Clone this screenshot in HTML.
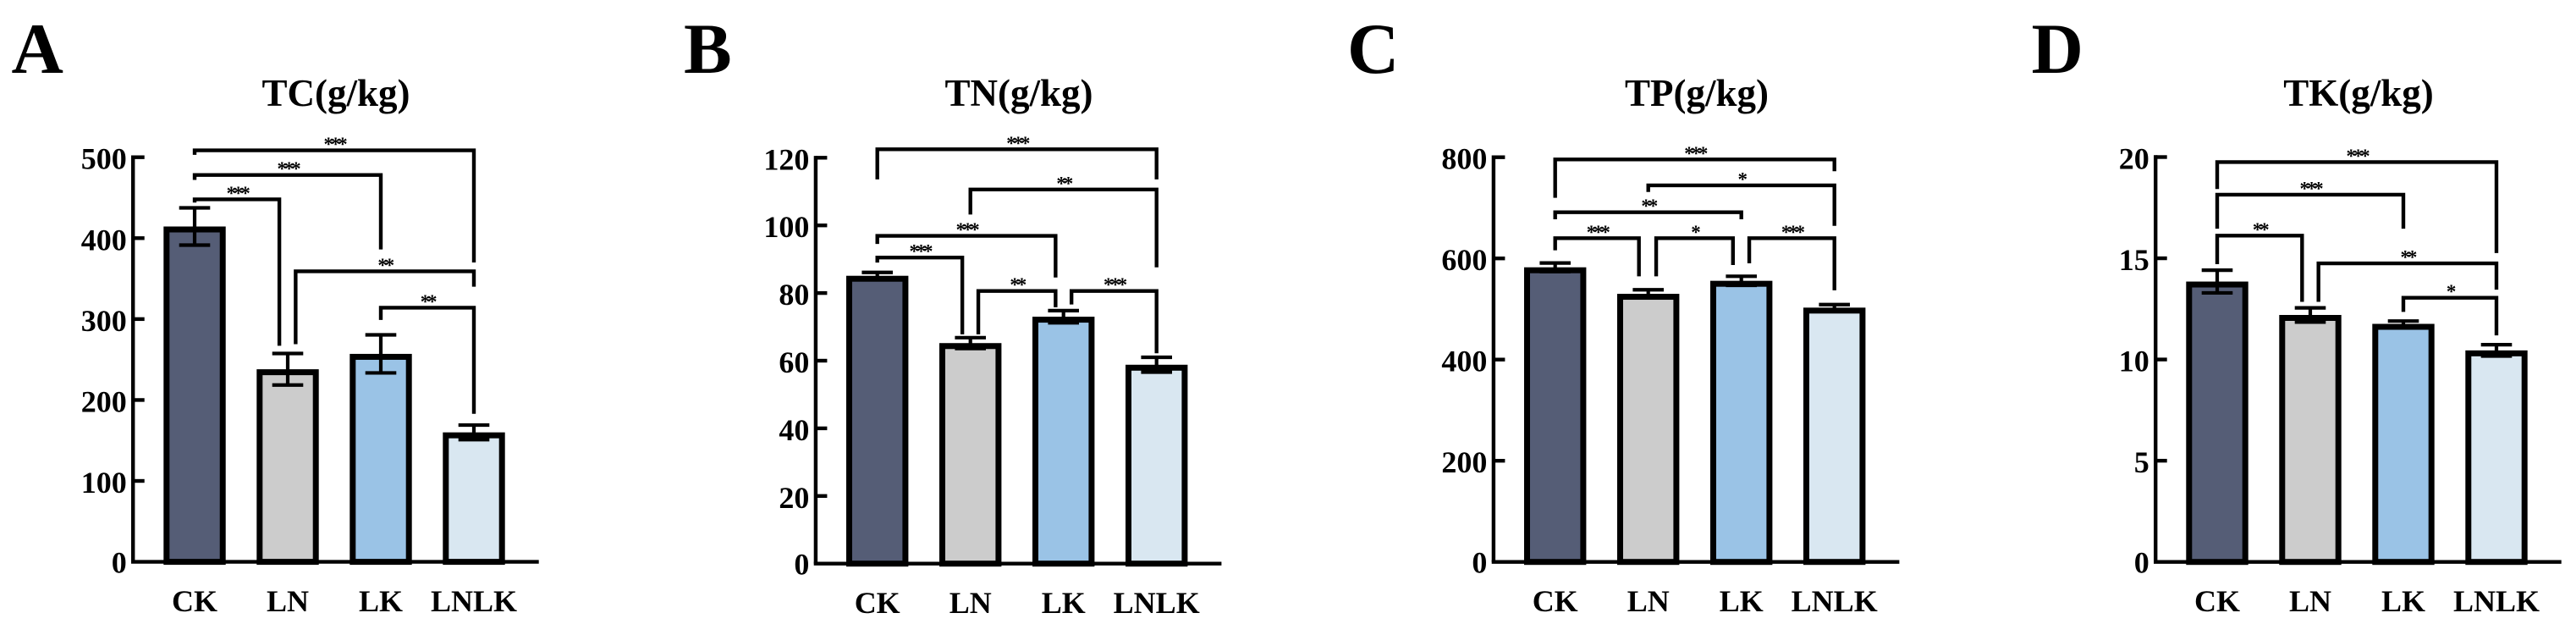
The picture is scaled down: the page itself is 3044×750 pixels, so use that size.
<!DOCTYPE html>
<html lang="en">
<head>
<meta charset="utf-8">
<title>Soil TC, TN, TP and TK by treatment</title>
<style>
  html, body { margin: 0; padding: 0; background: #fff; }
  body { width: 3044px; height: 750px; overflow: hidden; }
  svg { display: block; }
  text { font-family: "Liberation Serif", serif; font-weight: 700; fill: #000; }
  .letter { font-size: 85px; }
  .title { font-size: 45px; text-anchor: middle; }
</style>
</head>
<body>
<svg id="figure" xmlns="http://www.w3.org/2000/svg" width="3044" height="750" viewBox="0 0 3044 750">
  <rect x="0" y="0" width="3044" height="750" fill="#ffffff"/>
  <text class="letter" x="13.5" y="86">A</text>
  <text class="letter" x="808" y="86">B</text>
  <text class="letter" x="1592" y="86">C</text>
  <text class="letter" x="2400.5" y="86">D</text>
  <text class="title" x="397" y="125">TC(g/kg)</text>
  <text class="title" x="1204" y="125">TN(g/kg)</text>
  <text class="title" x="2005" y="125">TP(g/kg)</text>
  <text class="title" x="2787" y="125">TK(g/kg)</text>
  <g id="panel-a"></g>
  <g id="panel-b"></g>
  <g id="panel-c"></g>
  <g id="panel-d"></g>
</svg>
<script>
// Shared categories
const categories = ['CK', 'LN', 'LK', 'LNLK'];
const barColors = ['#555d76', '#cccccc', '#9ac3e6', '#d9e7f1'];

// TC (g/kg)
const tcTicks = [0, 100, 200, 300, 400, 500];
const tcValues = [414.4, 238, 257, 160];
const tcErrors = [23, 19.5, 23.5, 9];
// brackets: [from category, to category, level, left end, right end, stars], in category and axis units
const tcBrackets = [
  [0, 3, 508.5, 503, 370, '***'],
  [0, 2, 478, 472, 386, '***'],
  [0, 0.91, 448, 444, 267, '***'],
  [1.085, 3, 359, 269, 340, '**'],
  [2, 3, 314, 299, 183, '**']
];

// TN (g/kg)
const tnTicks = [0, 20, 40, 60, 80, 100, 120];
const tnValues = [85.1, 65.2, 73, 58.8];
const tnErrors = [1, 1.6, 1.8, 2.2];
const tnBrackets = [
  [0, 3, 122.5, 113.6, 113.6, '***'],
  [1, 3, 110.6, 103.2, 87.6, '**'],
  [0, 1.915, 96.9, 94.5, 84.6, '***'],
  [0, 0.913, 90.5, 89, 67.8, '***'],
  [1.085, 1.915, 80.6, 67.8, 75.8, '**'],
  [2.086, 3, 80.6, 76.6, 62.2, '***']
];

// TP (g/kg)
const tpTicks = [0, 200, 400, 600, 800];
const tpValues = [582.4, 530, 555.7, 502.7];
const tpErrors = [8.5, 8, 9, 6];
const tpBrackets = [
  [0, 3, 795.6, 719.7, 772.2, '***'],
  [1, 3, 744.3, 731.4, 664.4, '*'],
  [0, 2, 691.2, 677.3, 677.3, '**'],
  [0, 0.9, 640, 616, 564.6, '***'],
  [1.085, 1.91, 640, 564.6, 587, '*'],
  [2.085, 3, 640, 590.3, 537, '***']
];

// TK (g/kg)
const tkTicks = [0, 5, 10, 15, 20];
const tkValues = [13.85, 12.2, 11.76, 10.45];
const tkErrors = [0.56, 0.35, 0.14, 0.28];
const tkBrackets = [
  [0, 3, 19.75, 18.42, 15.26, '***'],
  [0, 2, 18.14, 16.46, 16.46, '***'],
  [0, 0.912, 16.12, 14.71, 12.85, '**'],
  [1.088, 3, 14.75, 12.85, 13.45, '**'],
  [2, 3, 13.05, 12.35, 11.19, '*']
];

const SVG_NS = 'http://www.w3.org/2000/svg';

function mk(tag, attrs, parent) {
  const node = document.createElementNS(SVG_NS, tag);
  for (const key in attrs) node.setAttribute(key, attrs[key]);
  parent.appendChild(node);
  return node;
}

function drawPanel(host, firstBarX, baseY, topY, ticks, values, errors, brackets, prefix) {
  const axisMax = ticks[ticks.length - 1];
  const barStep = 110;
  const barWidth = 73.4;
  const barStroke = 7;
  const axisStroke = 4.4;
  const capHalf = 18.3;
  const xAt = function (c) { return firstBarX + c * barStep; };
  const yAt = function (v) { return baseY - (v / axisMax) * (baseY - topY); };
  const axisX = firstBarX - 72.8;

  // bars
  values.forEach(function (v, i) {
    const bar = mk('rect', {
      x: xAt(i) - barWidth / 2 + barStroke / 2,
      y: yAt(v) + barStroke / 2,
      width: barWidth - barStroke,
      height: baseY - yAt(v) - barStroke / 2,
      fill: barColors[i],
      stroke: '#000',
      'stroke-width': barStroke
    }, host);
    
    
  });

  // error bars
  values.forEach(function (v, i) {
    const hi = yAt(v + errors[i]);
    const lo = yAt(v - errors[i]);
    const cx = xAt(i);
    const err = mk('path', {
      d: 'M' + (cx - capHalf) + ' ' + hi + 'H' + (cx + capHalf) +
         'M' + cx + ' ' + hi + 'V' + lo +
         'M' + (cx - capHalf) + ' ' + lo + 'H' + (cx + capHalf),
      fill: 'none',
      stroke: '#000',
      'stroke-width': 4.2
    }, host);
    
    
  });

  // axes
  const yAxis = mk('line', {
    x1: axisX, x2: axisX, y1: yAt(axisMax) - axisStroke / 2, y2: baseY,
    stroke: '#000', 'stroke-width': axisStroke
  }, host);
  
  

  const xAxis = mk('line', {
    x1: axisX - axisStroke / 2, x2: xAt(categories.length - 1) + 76.7, y1: baseY, y2: baseY,
    stroke: '#000', 'stroke-width': axisStroke
  }, host);
  
  

  // y ticks and labels
  ticks.forEach(function (t) {
    const y = yAt(t);
    if (t !== 0) {
      const tick = mk('line', {
        x1: axisX, x2: axisX + 13.5, y1: y, y2: y,
        stroke: '#000', 'stroke-width': 4.4
      }, host);
      
      
    }
    const label = mk('text', {
      x: axisX - 7.5, y: y + (t === 0 ? 13 : 14),
      'text-anchor': 'end', 'font-size': 36
    }, host);
    label.textContent = String(t);
    
    
  });

  // x labels
  categories.forEach(function (c, i) {
    const label = mk('text', {
      x: xAt(i), y: baseY + 58.5,
      'text-anchor': 'middle', 'font-size': 36
    }, host);
    label.textContent = c;
    
    
  });

  // significance brackets
  brackets.forEach(function (b) {
    const x1 = xAt(b[0]);
    const x2 = xAt(b[1]);
    const level = yAt(b[2]);
    const line = mk('path', {
      d: 'M' + x1 + ' ' + yAt(b[3]) + 'V' + level + 'H' + x2 + 'V' + yAt(b[4]),
      fill: 'none',
      stroke: '#000',
      'stroke-width': 4.4,
      'stroke-linejoin': 'miter'
    }, host);
    
    

    const stars = mk('text', {
      x: (x1 + x2) / 2, y: level + 0.5,
      'text-anchor': 'middle', 'font-size': 23, 'letter-spacing': -3.2
    }, host);
    stars.textContent = b[5];
    
    
  });
}

drawPanel(document.getElementById('panel-a'), 230, 663.6, 185.7, tcTicks, tcValues, tcErrors, tcBrackets, 'tc');
drawPanel(document.getElementById('panel-b'), 1036.7, 665.7, 186.3, tnTicks, tnValues, tnErrors, tnBrackets, 'tn');
drawPanel(document.getElementById('panel-c'), 1837.7, 663.7, 185.7, tpTicks, tpValues, tpErrors, tpBrackets, 'tp');
drawPanel(document.getElementById('panel-d'), 2620, 663.7, 185.5, tkTicks, tkValues, tkErrors, tkBrackets, 'tk');
</script>
</body>
</html>
